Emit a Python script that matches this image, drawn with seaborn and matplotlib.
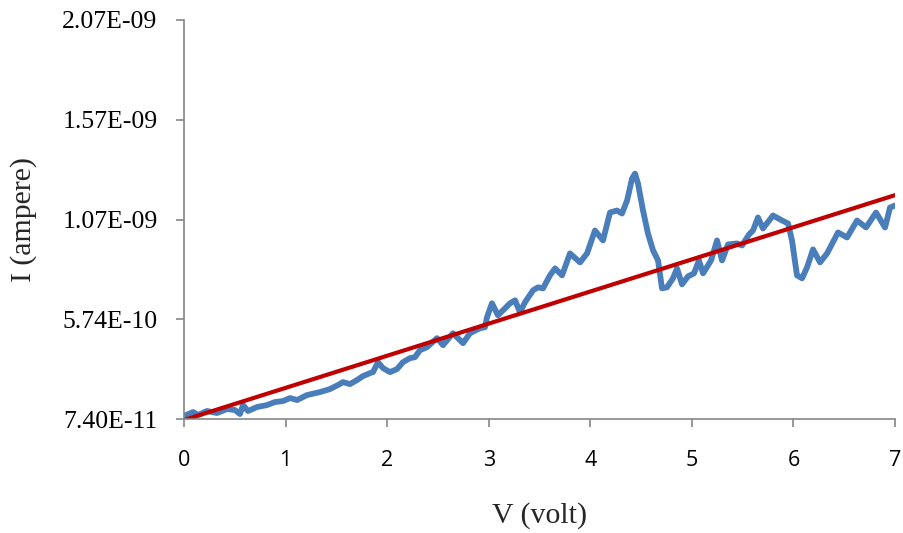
import numpy as np
import pandas as pd
import matplotlib
matplotlib.use("Agg")
import matplotlib.pyplot as plt
import seaborn as sns

# Measured I-V curve (volt, ampere)
voltage = [0.000, 0.089, 0.138, 0.226, 0.325, 0.423, 0.502, 0.551, 0.581, 0.630,
           0.719, 0.817, 0.896, 0.975, 1.044, 1.113, 1.211, 1.339, 1.437, 1.526,
           1.565, 1.634, 1.703, 1.762, 1.831, 1.861, 1.910, 1.959, 2.028, 2.097,
           2.156, 2.225, 2.274, 2.323, 2.392, 2.491, 2.550, 2.648, 2.747, 2.816,
           2.914, 2.963, 2.983, 3.032, 3.091, 3.141, 3.210, 3.259, 3.308, 3.357,
           3.436, 3.485, 3.535, 3.603, 3.653, 3.722, 3.800, 3.899, 3.968, 4.046,
           4.125, 4.194, 4.263, 4.312, 4.362, 4.411, 4.440, 4.470, 4.519, 4.568,
           4.618, 4.667, 4.706, 4.755, 4.814, 4.854, 4.903, 4.962, 5.021, 5.070,
           5.110, 5.189, 5.248, 5.297, 5.356, 5.445, 5.494, 5.563, 5.602, 5.651,
           5.700, 5.799, 5.888, 5.947, 5.986, 6.035, 6.085, 6.134, 6.193, 6.262,
           6.331, 6.439, 6.528, 6.626, 6.715, 6.813, 6.902, 6.951, 7.000]
current = [0.89, 1.09, 0.94, 1.14, 1.04, 1.24, 1.19, 0.99, 1.44, 1.14,
           1.34, 1.44, 1.59, 1.64, 1.79, 1.69, 1.94, 2.09, 2.24, 2.47,
           2.59, 2.49, 2.69, 2.89, 3.04, 3.09, 3.59, 3.29, 3.09, 3.24,
           3.59, 3.79, 3.84, 4.19, 4.34, 4.79, 4.44, 5.04, 4.54, 5.04,
           5.29, 5.34, 5.84, 6.54, 5.94, 6.19, 6.54, 6.69, 6.09, 6.59,
           7.19, 7.34, 7.29, 7.94, 8.29, 7.94, 9.04, 8.59, 9.04, 10.19,
           9.69, 11.09, 11.19, 11.04, 11.69, 12.79, 13.04, 12.54, 11.19, 10.04,
           9.19, 8.69, 7.29, 7.34, 7.79, 8.29, 7.49, 7.89, 8.04, 8.69,
           8.04, 8.69, 9.69, 8.69, 9.49, 9.54, 9.44, 9.99, 10.19, 10.84,
           10.29, 10.94, 10.69, 10.54, 9.69, 7.94, 7.79, 8.34, 9.24, 8.59,
           9.04, 10.09, 9.84, 10.69, 10.34, 11.09, 10.34, 11.34, 11.44]
current = [c * 1e-10 for c in current]

# Linear trendline endpoints
trend_v = [0.0, 7.0]
trend_i = [6.9e-11, 1.196e-09]

# Axis ticks
x_ticks = [0, 1, 2, 3, 4, 5, 6, 7]
y_ticks = [7.40e-11, 5.74e-10, 1.074e-09, 1.574e-09, 2.074e-09]
y_tick_labels = ["7.40E-11", "5.74E-10", "1.07E-09", "1.57E-09", "2.07E-09"]

sns.set_theme(style="white")
plt.rcParams["font.family"] = ["Liberation Serif", "DejaVu Serif"]

fig = plt.figure(figsize=(9.04, 5.33), dpi=100)
ax = fig.add_axes([184 / 904, 1 - 419 / 533, (895 - 184) / 904, (419 - 20) / 533])

data = pd.DataFrame({"V": voltage, "I": current})
trend = pd.DataFrame({"V": trend_v, "I": trend_i})

sns.lineplot(data=data, x="V", y="I", ax=ax, sort=False, color="#4A7EBB",
             linewidth=4.2, solid_joinstyle="round", solid_capstyle="round")
sns.lineplot(data=trend, x="V", y="I", ax=ax, sort=False, color="#C00000",
             linewidth=3.0)

ax.set_xlim(0, 7)
ax.set_ylim(7.40e-11, 2.074e-09)
ax.set_xticks(x_ticks)
ax.set_xticklabels([str(t) for t in x_ticks], family=["Open Sans", "DejaVu Sans"],
                   fontsize=15.5)
ax.set_yticks(y_ticks)
ax.set_yticklabels(y_tick_labels, fontsize=18.5)

ax.set_xlabel("V (volt)", fontsize=21.5, labelpad=23)
ax.set_ylabel("I (ampere)", fontsize=21.5, labelpad=18)

for side in ("top", "right"):
    ax.spines[side].set_visible(False)
for side in ("left", "bottom"):
    ax.spines[side].set_color("#868686")
    ax.spines[side].set_linewidth(1.2)

ax.tick_params(axis="both", which="major", direction="out", length=6,
               width=1.2, color="#868686", labelcolor="black", left=True,
               bottom=True)
ax.tick_params(axis="y", pad=13)
ax.tick_params(axis="x", pad=16)
ax.grid(False)

fig.savefig("out.png", dpi=100)
